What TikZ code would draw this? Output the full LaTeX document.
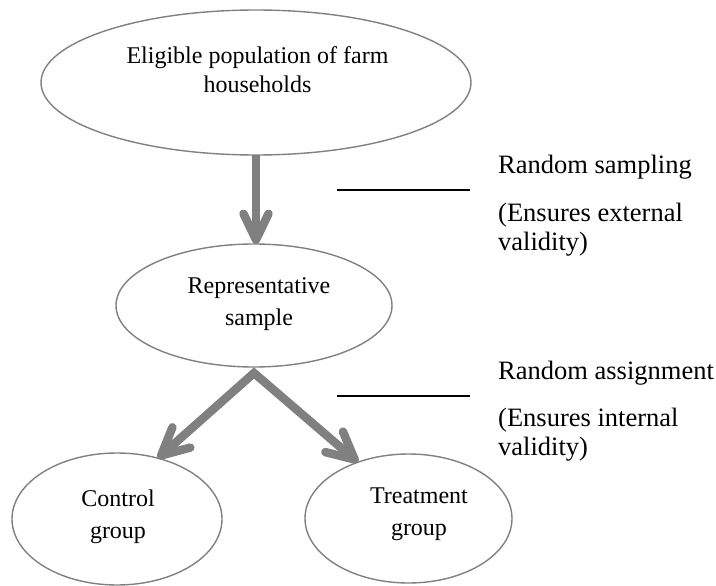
\documentclass[tikz,border=0pt]{standalone}
\usepackage{fontspec}
\setmainfont{Liberation Serif}
\usetikzlibrary{shapes.geometric,arrows.meta,calc}
\definecolor{ellgray}{RGB}{128,128,128}
\definecolor{arrgray}{RGB}{128,128,128}
\begin{document}
\begin{tikzpicture}[x=1pt,y=-1pt,
  ell/.style={ellipse, draw=ellgray, line width=1.4pt, inner sep=0pt, outer sep=0pt},
  lbl/.style={anchor=base, inner sep=0pt, font=\fontsize{24}{28}\selectfont},
  side/.style={anchor=base west, inner sep=0pt, font=\fontsize{26.5}{30}\selectfont},
  bigarrow/.style={draw=arrgray, line width=8.5pt, line join=miter,
    {Straight Barb[round, length=27pt, width=27pt]}-{Straight Barb[round, length=27pt, width=27pt]}},
  downarrow/.style={draw=arrgray, line width=8.5pt,
    -{Straight Barb[round, length=26pt, width=25pt]}},
  rulestroke/.style={draw=black, line width=1.6pt}]
\useasboundingbox (0,0) rectangle (716,586);
% ellipses
\node[ell, minimum width=430pt, minimum height=145pt] (pop) at (256,82.5) {};
\node[ell, minimum width=276pt, minimum height=123pt] (mid) at (254,305.5) {};
\node[ell, minimum width=210pt, minimum height=132pt] (ctrl) at (117,519) {};
\node[ell, minimum width=207pt, minimum height=129pt] (treat) at (408.5,518.5) {};
% labels
\node[lbl] (popA) at (257.5,64) {Eligible population of farm};
\node[lbl] (popB) at (257.5,93) {households};
\node[lbl] (midA) at (259,293) {Representative};
\node[lbl] (midB) at (259,325) {sample};
\node[lbl] (ctrlA) at (118,506) {Control};
\node[lbl] (ctrlB) at (118,538) {group};
\node[lbl] (treatA) at (419,503) {Treatment};
\node[lbl] (treatB) at (419,535) {group};
% arrows
\draw[downarrow] (pop.south) -- (pop.south |- mid.north);
\coordinate (apex) at ($(mid.south)+(0,6)$);
\draw[bigarrow] (ctrl.56.5) -- (apex) -- (treat.132);
% side rules
\coordinate (r1a) at (337,190);
\coordinate (r1b) at (470,190);
\coordinate (r2a) at (337,396);
\coordinate (r2b) at (470,396);
\draw[rulestroke] (r1a) -- (r1b);
\draw[rulestroke] (r2a) -- (r2b);
% side texts
\node[side] (s1) at (498,174) {Random sampling};
\node[side] (s2) at (498,221) {(Ensures external};
\node[side] (s3) at (498,251) {validity)};
\node[side] (s4) at (498,379) {Random assignment};
\node[side] (s5) at (498,426) {(Ensures internal};
\node[side] (s6) at (498,455) {validity)};
\end{tikzpicture}
\end{document}
